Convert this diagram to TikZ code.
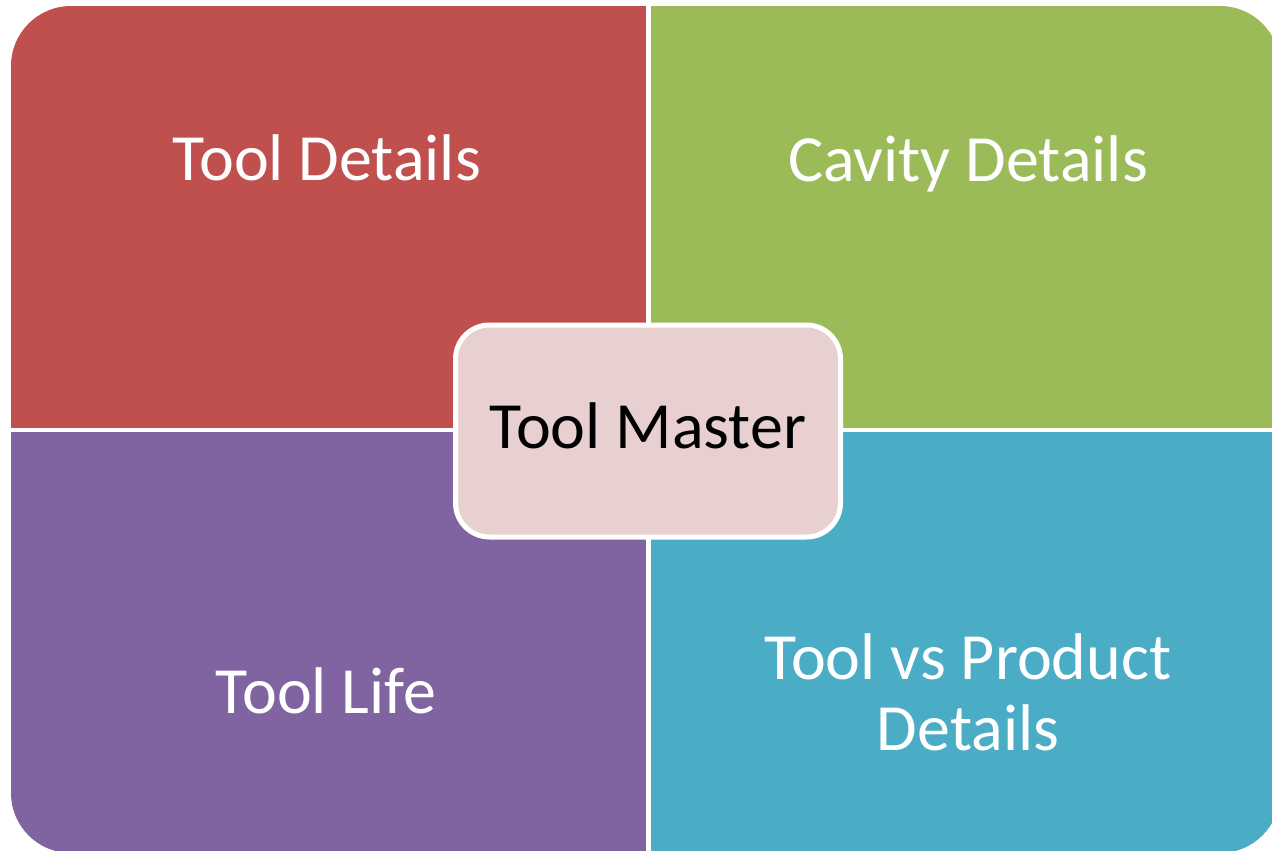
\documentclass[tikz,border=0pt]{standalone}
\usepackage{fontspec}
\setmainfont{Carlito}
\definecolor{quadred}{HTML}{C0504D}
\definecolor{quadgreen}{HTML}{9BBB59}
\definecolor{quadpurple}{HTML}{8064A2}
\definecolor{quadblue}{HTML}{4BACC6}
\definecolor{hubpink}{HTML}{E8D0D1}
\begin{document}
\begin{tikzpicture}[x=0.5pt,y=-0.5pt]
\tikzstyle{every node}=[inner sep=0pt, align=center, font=\fontsize{33}{35.5}\selectfont]
\tikzstyle{quadtext}=[text=white, anchor=base]
\useasboundingbox (0,0) rectangle (1272,850);
\begin{scope}
\clip[rounded corners=30pt] (11,6) rectangle (1280,853);
\fill[quadred] (11,6) rectangle (646,428);
\fill[quadgreen] (651,6) rectangle (1280,428);
\fill[quadpurple] (11,432) rectangle (646,853);
\fill[quadblue] (651,432) rectangle (1280,853);
\end{scope}
\draw (327,181) node (tdet) [quadtext] {Tool Details};
\draw (968,182) node (cdet) [quadtext] {Cavity Details};
\draw (326,713) node (tlife) [quadtext] {Tool Life};
\draw (968,750) node (tprod) [quadtext] {Tool vs Product\\Details};
\draw (648,431) node (hub) [draw=white, line width=2.5pt, fill=hubpink, rounded corners=17pt,
  minimum width=192.5pt, minimum height=106pt] {};
\draw (648,448) node (hubtext) [anchor=base] {Tool Master};
\end{tikzpicture}
\end{document}
